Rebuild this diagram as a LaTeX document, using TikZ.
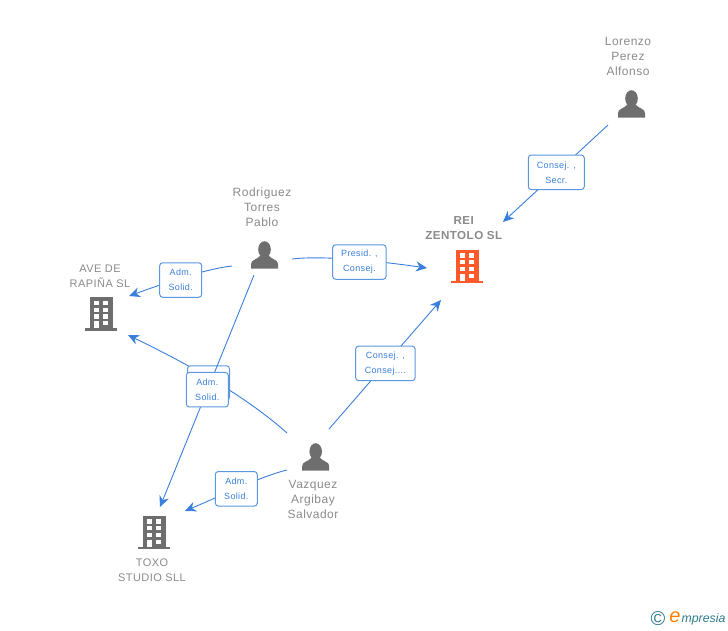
\documentclass[tikz,border=0pt]{standalone}
\usepackage{fontspec}
\setmainfont[LetterSpace=4]{Liberation Sans}
\newfontfamily\logofont{Liberation Sans}
\usetikzlibrary{arrows.meta}
\definecolor{linkblue}{HTML}{3A7FDC}
\definecolor{boxblue}{HTML}{5B97E0}
\definecolor{iconGrey}{HTML}{6E6E6E}
\definecolor{nameGrey}{HTML}{8A8A8A}
\definecolor{reiOrange}{HTML}{FF5A2B}
\definecolor{logoTeal}{HTML}{2F7A8C}
\tikzset{
  link/.style={linkblue,line width=0.9pt,-{Stealth[length=11pt,width=10pt,inset=3.5pt]}},
  rolebox/.style={draw=boxblue,line width=1pt,fill=white,rounded corners=3pt,minimum width=42pt,minimum height=34.5pt,
    inner sep=0pt,align=center,text=linkblue,font=\fontsize{9}{15}\selectfont},
  namelabel/.style={text=nameGrey,align=center,inner sep=0pt,font=\fontsize{12}{15}\selectfont},
  firmlabel/.style={text=nameGrey,align=center,inner sep=0pt,font=\fontsize{11}{15}\selectfont},
  pics/person/.style={code={
    \fill[iconGrey] (0,-5) ellipse (6.3 and 8.3);
    \fill[iconGrey] (-13.5,14) -- (-13.5,9.5) .. controls (-13.5,5) and (-7,5) .. (-4,1) -- (4,1)
      .. controls (7,5) and (13.5,5) .. (13.5,9.5) -- (13.5,14) -- cycle;
  }},
  pics/building/.style={code={
    \fill[#1] (-11.5,-17) rectangle (11.5,14);
    \fill[#1] (-16,14) rectangle (16,16.8);
    \foreach \wy in {-13.3,-6.5,0.3,7}
      \foreach \wx in {-7,2.3}
        \fill[white] (\wx,\wy) rectangle +(5,4.4);
    \fill[white] (-7,11) rectangle (-2,14);
  }}
}
\begin{document}
\begin{tikzpicture}[x=1pt,y=-1pt]
  \useasboundingbox (0,0) rectangle (728,630);

  \coordinate (lorenzoOut) at (608,125);
  \coordinate (rodriguezOutA) at (232,266);
  \coordinate (rodriguezOutT) at (254,275);
  \coordinate (rodriguezOutR) at (292,259);
  \coordinate (vazquezOutA) at (287,433);
  \coordinate (vazquezOutR) at (329,429);
  \coordinate (vazquezOutT) at (287,470);
  \coordinate (reiInL) at (503,222);
  \coordinate (reiInP) at (427,268);
  \coordinate (reiInV) at (441,300);
  \coordinate (aveInR) at (129,296);
  \coordinate (aveInV) at (128,335);
  \coordinate (toxoInR) at (160,507);
  \coordinate (toxoInV) at (185,511);

  \pic at (631.5,103.5) {person};
  \pic at (264.5,254.5) {person};
  \pic at (315.7,456.5) {person};
  \pic at (101,314) {building=iconGrey};
  \pic at (467,266.5) {building=reiOrange};
  \pic at (154,532.5) {building=iconGrey};

  \node[namelabel] (lorenzo) at (628,56.5) {Lorenzo\\Perez\\Alfonso};
  \node[namelabel] (rodriguez) at (262,207.5) {Rodriguez\\Torres\\Pablo};
  \node[namelabel] (vazquez) at (313,499.5) {Vazquez\\Argibay\\Salvador};
  \node[firmlabel] (ave) at (100,276) {AVE DE\\RAPIÑA SL};
  \node[firmlabel,font=\fontsize{11.6}{15}\selectfont] (rei) at (464,228.5) {\textbf{REI}\\\textbf{ZENTOLO SL}};
  \node[firmlabel] (toxo) at (152,570) {TOXO\\STUDIO SLL};

  \draw[link] (lorenzoOut) -- (reiInL);
  \draw[link] (rodriguezOutA) .. controls (205,269) and (165,283) .. (aveInR);
  \draw[link] (rodriguezOutR) .. controls (325,255) and (385,262) .. (reiInP);
  \draw[link] (vazquezOutA) .. controls (250,400) and (200,370) .. (aveInV);
  \draw[link] (vazquezOutR) -- (reiInV);
  \draw[link] (vazquezOutT) .. controls (262,476) and (225,494) .. (toxoInV);

  \node[rolebox,minimum width=56pt] (boxLorenzo) at (556.3,172.3) {Consej. ,\\Secr.};
  \node[rolebox] (boxAve) at (180.7,280) {Adm.\\Solid.};
  \node[rolebox,minimum width=53.5pt] (boxPresid) at (359.4,262) {Presid. ,\\Consej.};
  \node[rolebox,minimum width=59.5pt] (boxConsej) at (385.4,363.4) {Consej. ,\\Consej....};
  \node[rolebox] (boxToxo) at (236.3,488.8) {Adm.\\Solid.};
  \node[rolebox] (boxBack) at (208.5,383) {};
  \draw[link] (rodriguezOutT) -- (toxoInR);
  \node[rolebox] (boxFront) at (207.3,389.7) {Adm.\\Solid.};

  \node[inner sep=0pt,text=logoTeal,font=\logofont\fontsize{20}{20}\selectfont] (logoC) at (658,619) {©};
  \node[inner sep=0pt,text=orange,font=\logofont\itshape\fontsize{20}{20}\selectfont] (logoE) at (675,617) {e};
  \node[inner sep=0pt,text=logoTeal,font=\logofont\itshape\fontsize{12.3}{14}\selectfont] (logoName) at (703.5,619.5) {mpresia};
\end{tikzpicture}
\end{document}
